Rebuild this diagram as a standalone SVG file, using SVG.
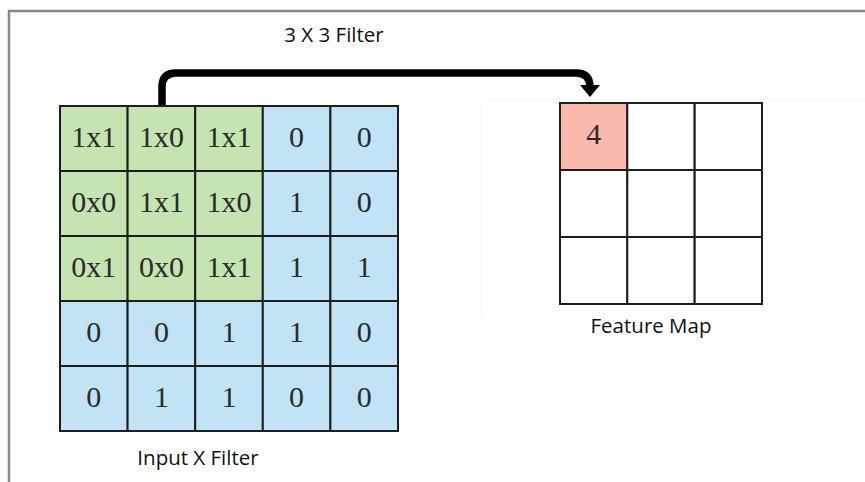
<svg xmlns="http://www.w3.org/2000/svg" width="865" height="482" viewBox="0 0 865 482">
<style>
.g{fill:#c6e4b2;stroke:#1e1e1e;stroke-width:2}
.b{fill:#c2e3f6;stroke:#1e1e1e;stroke-width:2}
.w{fill:#ffffff;stroke:#1e1e1e;stroke-width:2}
.p{fill:#fbb9ae;stroke:#1e1e1e;stroke-width:2}
.n{font-family:"Liberation Serif","DejaVu Serif",serif;font-size:30px;fill:#2a2a2a;text-anchor:middle}
.l{font-family:"Open Sans","Liberation Sans",sans-serif;font-size:20.5px;fill:#111;text-anchor:middle}
</style>
<rect x="0" y="0" width="865" height="482" fill="#ffffff"/>
<path d="M865,11 H9 V482" fill="none" stroke="#888888" stroke-width="2.5"/>
<rect x="481" y="100" width="390" height="220" fill="none" stroke="#f8f8f8" stroke-width="1"/>
<text class="l" x="334" y="42">3 X 3 Filter</text>
<g id="input-grid">
<rect class="g" x="60" y="106" width="67.6" height="65"/><text class="n" x="93.8" y="147">1x1</text>
<rect class="g" x="127.6" y="106" width="67.6" height="65"/><text class="n" x="161.4" y="147">1x0</text>
<rect class="g" x="195.2" y="106" width="67.6" height="65"/><text class="n" x="229" y="147">1x1</text>
<rect class="b" x="262.8" y="106" width="67.6" height="65"/><text class="n" x="296.6" y="147">0</text>
<rect class="b" x="330.4" y="106" width="67.6" height="65"/><text class="n" x="364.2" y="147">0</text>
<rect class="g" x="60" y="171" width="67.6" height="65"/><text class="n" x="93.8" y="212">0x0</text>
<rect class="g" x="127.6" y="171" width="67.6" height="65"/><text class="n" x="161.4" y="212">1x1</text>
<rect class="g" x="195.2" y="171" width="67.6" height="65"/><text class="n" x="229" y="212">1x0</text>
<rect class="b" x="262.8" y="171" width="67.6" height="65"/><text class="n" x="296.6" y="212">1</text>
<rect class="b" x="330.4" y="171" width="67.6" height="65"/><text class="n" x="364.2" y="212">0</text>
<rect class="g" x="60" y="236" width="67.6" height="65"/><text class="n" x="93.8" y="277">0x1</text>
<rect class="g" x="127.6" y="236" width="67.6" height="65"/><text class="n" x="161.4" y="277">0x0</text>
<rect class="g" x="195.2" y="236" width="67.6" height="65"/><text class="n" x="229" y="277">1x1</text>
<rect class="b" x="262.8" y="236" width="67.6" height="65"/><text class="n" x="296.6" y="277">1</text>
<rect class="b" x="330.4" y="236" width="67.6" height="65"/><text class="n" x="364.2" y="277">1</text>
<rect class="b" x="60" y="301" width="67.6" height="65"/><text class="n" x="93.8" y="342">0</text>
<rect class="b" x="127.6" y="301" width="67.6" height="65"/><text class="n" x="161.4" y="342">0</text>
<rect class="b" x="195.2" y="301" width="67.6" height="65"/><text class="n" x="229" y="342">1</text>
<rect class="b" x="262.8" y="301" width="67.6" height="65"/><text class="n" x="296.6" y="342">1</text>
<rect class="b" x="330.4" y="301" width="67.6" height="65"/><text class="n" x="364.2" y="342">0</text>
<rect class="b" x="60" y="366" width="67.6" height="65"/><text class="n" x="93.8" y="407">0</text>
<rect class="b" x="127.6" y="366" width="67.6" height="65"/><text class="n" x="161.4" y="407">1</text>
<rect class="b" x="195.2" y="366" width="67.6" height="65"/><text class="n" x="229" y="407">1</text>
<rect class="b" x="262.8" y="366" width="67.6" height="65"/><text class="n" x="296.6" y="407">0</text>
<rect class="b" x="330.4" y="366" width="67.6" height="65"/><text class="n" x="364.2" y="407">0</text>
<text class="l" x="198" y="465">Input X Filter</text>
</g>
<g id="feature-map">
<rect class="p" x="560" y="103" width="67.3" height="67"/><text class="n" x="593.7" y="144">4</text>
<rect class="w" x="627.3" y="103" width="67.3" height="67"/>
<rect class="w" x="694.7" y="103" width="67.3" height="67"/>
<rect class="w" x="560" y="170" width="67.3" height="67"/>
<rect class="w" x="627.3" y="170" width="67.3" height="67"/>
<rect class="w" x="694.7" y="170" width="67.3" height="67"/>
<rect class="w" x="560" y="237" width="67.3" height="67"/>
<rect class="w" x="627.3" y="237" width="67.3" height="67"/>
<rect class="w" x="694.7" y="237" width="67.3" height="67"/>
<text class="l" x="651" y="333">Feature Map</text>
</g>
<g id="connectors">
<path d="M162,105 V87 Q162,73 176,73 H576 Q590,73 590,87 V88" fill="none" stroke="#000" stroke-width="7.5"/>
<polygon points="580,85 600,85 590,97" fill="#000"/>
</g>
</svg>
